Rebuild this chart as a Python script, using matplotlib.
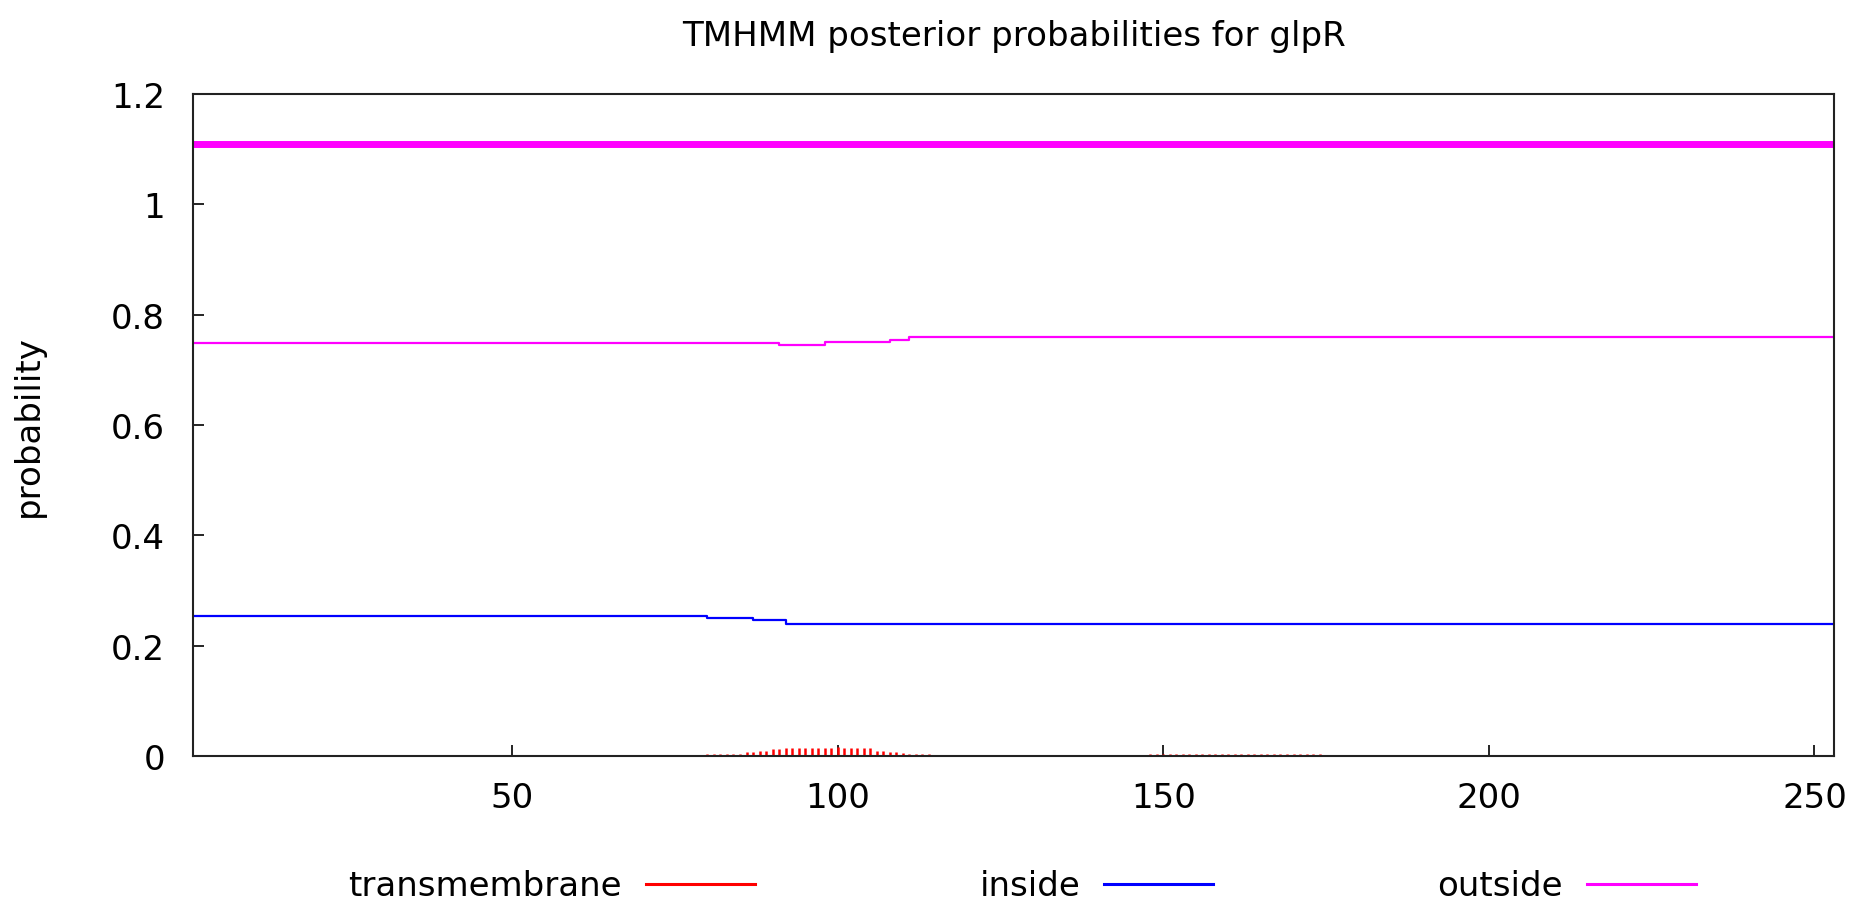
import matplotlib
matplotlib.use("Agg")
import matplotlib.pyplot as plt
from matplotlib.lines import Line2D

# ---- data ----
seq_start = 1
seq_end = 253

# posterior probability of transmembrane (impulses)
tm_pos = [80, 81, 82, 83, 84, 85, 86, 87, 88, 89, 90, 91, 92, 93, 94, 95, 96, 97,
          98, 99, 100, 101, 102, 103, 104, 105, 106, 107, 108, 109, 110, 111, 112,
          113, 114,
          148, 149, 150, 151, 152, 153, 154, 155, 156, 157, 158, 159, 160, 161,
          162, 163, 164, 165, 166, 167, 168, 169, 170, 171, 172, 173, 174]
tm_prob = [0.004, 0.004, 0.004, 0.004, 0.004, 0.004, 0.007, 0.007, 0.009, 0.009,
           0.013, 0.013, 0.014, 0.014, 0.014, 0.014, 0.014, 0.014, 0.014, 0.015,
           0.016, 0.015, 0.014, 0.014, 0.014, 0.014, 0.009, 0.009, 0.008, 0.008,
           0.005, 0.004, 0.004, 0.004, 0.004,
           0.003, 0.003, 0.003, 0.003, 0.003, 0.003, 0.003, 0.003, 0.003, 0.003,
           0.003, 0.003, 0.003, 0.003, 0.003, 0.003, 0.003, 0.003, 0.003, 0.003,
           0.003, 0.003, 0.003, 0.003, 0.003, 0.003, 0.003]

# posterior probability of inside (step changes)
inside_x = [1, 80, 87, 92, 253]
inside_y = [0.254, 0.250, 0.246, 0.240, 0.240]

# posterior probability of outside (step changes)
outside_x = [1, 91, 98, 108, 111, 253]
outside_y = [0.749, 0.745, 0.750, 0.754, 0.759, 0.759]

# predicted topology line
topo_x = [1, 253]
topo_y = [1.11, 1.11]

x_ticks = [50, 100, 150, 200, 250]
y_ticks = [0, 0.2, 0.4, 0.6, 0.8, 1, 1.2]
y_tick_labels = ["0", "0.2", "0.4", "0.6", "0.8", "1", "1.2"]

title = "TMHMM posterior probabilities for glpR"
series_labels = ["transmembrane", "inside", "outside"]
colors = ["#ff0000", "#0000ff", "#ff00ff"]

# ---- plot ----
plt.rcParams['font.family'] = ['DejaVu Sans']
FS = 24.5

W, H = 1854, 904
fig = plt.figure(figsize=(W / 100, H / 100), dpi=100)
left, right, top, bottom = 193, 1834, 95, 757
ax = fig.add_axes([left / W, 1 - bottom / H, (right - left) / W, (bottom - top) / H])

ax.vlines(tm_pos, 0, tm_prob, colors=colors[0], linewidth=1.8)
ax.plot(inside_x, inside_y, drawstyle='steps-post', color=colors[1], linewidth=1.6)
ax.plot(outside_x, outside_y, drawstyle='steps-post', color=colors[2], linewidth=1.6)
ax.plot(topo_x, topo_y, color=colors[2], linewidth=5)

ax.set_xlim(seq_start, seq_end)
ax.set_ylim(0, 1.2)
ax.set_xticks(x_ticks)
ax.set_xticklabels([str(t) for t in x_ticks])
ax.set_yticks(y_ticks)
ax.set_yticklabels(y_tick_labels)
ax.tick_params(direction='in', length=8, width=1.2, labelsize=FS, colors='black')
ax.tick_params(axis='x', pad=18)
ax.tick_params(axis='y', pad=20)
for s in ax.spines.values():
    s.set_linewidth(1.5)
    s.set_color('#222222')

ax.set_ylabel("probability", fontsize=FS)
ax.yaxis.set_label_coords(-0.090, 0.5)

ax.set_title(title, fontsize=FS, y=(bottom - 45) / (bottom - top), va='center')

handles = [Line2D([], [], color=c, linewidth=2.2) for c in colors]
fig.legend(handles, series_labels, loc='center', ncol=3, frameon=False,
           markerfirst=False, fontsize=FS, handlelength=3.2, handletextpad=0.7,
           columnspacing=6.6, bbox_to_anchor=(1022 / W, 1 - 887 / H),
           bbox_transform=fig.transFigure)

fig.savefig("out.png", dpi=100, facecolor='white')
